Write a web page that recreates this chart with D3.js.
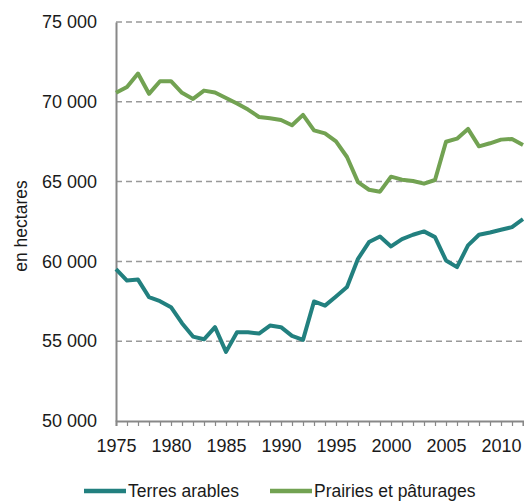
<!DOCTYPE html>
<html>
<head>
<meta charset="utf-8">
<script src="https://cdn.jsdelivr.net/npm/d3@7"></script>
<style>
  body { margin: 0; background: #fff; }
  svg { display: block; font-family: "Liberation Sans", Arial, sans-serif; }
</style>
</head>
<body>
<svg id="chart"></svg>
<script>
"use strict";

// data
const years = d3.range(1975, 2013);
const terresArables = [
  59520, 58800, 58860, 57760, 57510, 57130, 56130, 55290, 55120, 55880,
  54330, 55560, 55560, 55480, 55980, 55880, 55330, 55080, 57490, 57230,
  57800, 58390, 60160, 61210, 61560, 60940, 61400, 61670, 61880, 61520,
  60060, 59640, 61000, 61670, 61810, 61980, 62150, 62650
];
const prairies = [
  70560, 70930, 71770, 70500, 71290, 71290, 70560, 70180, 70700, 70580,
  70240, 69890, 69510, 69050, 68970, 68860, 68530, 69180, 68210, 68020,
  67520, 66540, 64970, 64490, 64370, 65310, 65120, 65040, 64870, 65100,
  67500, 67690, 68300, 67210, 67400, 67630, 67670, 67300
];
const yTicks = [50000, 55000, 60000, 65000, 70000, 75000];
const xLabelYears = [1975, 1980, 1985, 1990, 1995, 2000, 2005, 2010];
const seriesNames = ["Terres arables", "Prairies et pâturages"];
const seriesColors = ["#22807f", "#72a252"];

const width = 524;
const height = 501;
const margin = { top: 22, right: 1, bottom: 80, left: 116 };

const svg = d3.select("#chart").attr("width", width).attr("height", height);

const x = d3.scaleLinear()
  .domain([1975, 2012])
  .range([margin.left, width - margin.right]);

const y = d3.scaleLinear()
  .domain([50000, 75000])
  .range([height - margin.bottom, margin.top]);

const fmt = d3.formatLocale({ decimal: ",", thousands: " ", grouping: [3], currency: ["", ""] }).format(",d");

// dashed gridlines
svg.append("g")
  .selectAll("line")
  .data(yTicks.filter((d) => d > 50000))
  .join("line")
  .attr("x1", margin.left)
  .attr("x2", width)
  .attr("y1", (d) => y(d))
  .attr("y2", (d) => y(d))
  .attr("stroke", "#999")
  .attr("stroke-width", 1.5)
  .attr("stroke-dasharray", "6,4");

// Y axis
const yAxis = svg.append("g")
  .attr("transform", `translate(${margin.left},0)`)
  .call(d3.axisLeft(y).tickValues(yTicks).tickFormat(fmt).tickSize(0).tickPadding(19));
yAxis.select(".domain").attr("stroke", "#888").attr("stroke-width", 2);
yAxis.selectAll("text").attr("font-size", 18).attr("fill", "#1a1a1a");

// X axis
const xAxis = svg.append("g")
  .attr("transform", `translate(0,${height - margin.bottom})`)
  .call(d3.axisBottom(x)
    .tickValues(years)
    .tickSize(5)
    .tickPadding(13)
    .tickFormat((d) => (xLabelYears.includes(d) ? d : "")));
xAxis.select(".domain").attr("stroke", "#888").attr("stroke-width", 2);
xAxis.selectAll(".tick line").attr("stroke", "#888").attr("stroke-width", 1.2);
xAxis.selectAll("text").attr("font-size", 18).attr("fill", "#1a1a1a");

// Y title
svg.append("text")
  .attr("transform", `translate(22,${226}) rotate(-90)`)
  .attr("text-anchor", "middle")
  .attr("dominant-baseline", "middle")
  .attr("font-size", 17.5)
  .attr("fill", "#1a1a1a")
  .text("en hectares");

// lines
const line = d3.line()
  .x((d, i) => x(years[i]))
  .y((d) => y(d));

[terresArables, prairies].forEach((vals, i) => {
  svg.append("path")
    .datum(vals)
    .attr("fill", "none")
    .attr("stroke", seriesColors[i])
    .attr("stroke-width", 4)
    .attr("stroke-linejoin", "round")
    .attr("d", line);
});

// legend
const legendX = [84, 270];
const legend = svg.append("g")
  .selectAll("g")
  .data(seriesNames)
  .join("g")
  .attr("transform", (d, i) => `translate(${legendX[i]},491)`);

legend.append("line")
  .attr("x1", 0)
  .attr("x2", 42)
  .attr("stroke", (d, i) => seriesColors[i])
  .attr("stroke-width", 4.5);

legend.append("text")
  .attr("x", 44)
  .attr("dy", "0.35em")
  .attr("font-size", 17.5)
  .attr("fill", "#1a1a1a")
  .text((d) => d);
</script>
</body>
</html>
